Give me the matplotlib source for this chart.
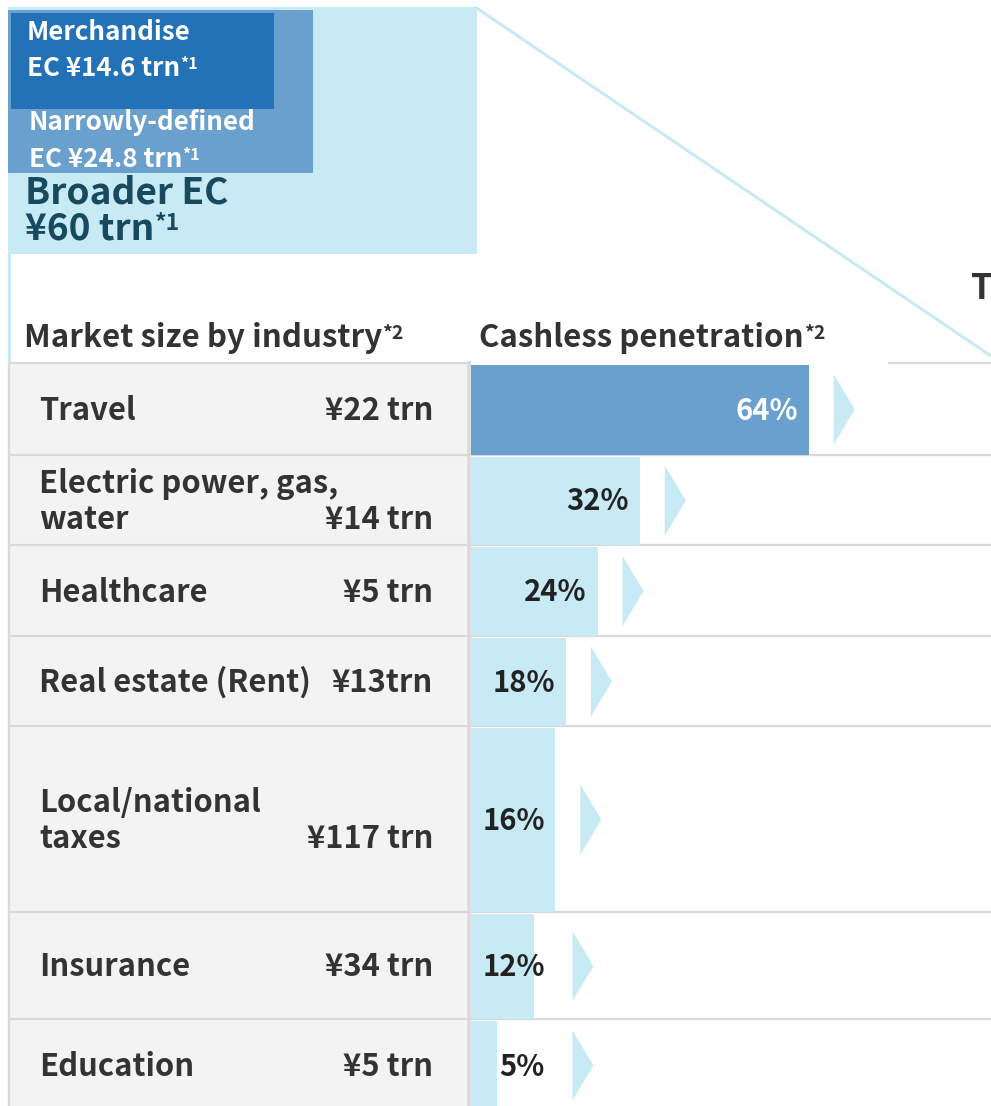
import matplotlib
matplotlib.use('Agg')
import matplotlib.pyplot as plt
from matplotlib.patches import Rectangle, Polygon

plt.rcParams['font.family'] = ['Noto Sans CJK JP', 'DejaVu Sans']

# data
industries = ['Travel', 'Electric power, gas,\nwater', 'Healthcare', 'Real estate (Rent)',
              'Local/national\ntaxes', 'Insurance', 'Education']
market_size = ['¥22 trn', '¥14 trn', '¥5 trn', '¥13trn', '¥117 trn', '¥34 trn', '¥5 trn']
cashless_pct = [64, 32, 24, 18, 16, 12, 5]

ec_title = ['Broader EC', '¥60 trn']
ec_narrow = ['Narrowly-defined', 'EC ¥24.8 trn']
ec_merch = ['Merchandise', 'EC ¥14.6 trn']

# colours
LIGHT = '#c8eaf5'
MID = '#6aa0ce'
DARK = '#2371b7'
CELL = '#f3f3f3'
GRID = '#d9d9d9'
TXT = '#333333'

W, H = 991, 1106
PX_PER_PCT = 5.28
BAR_X0 = 471
row_edges = [363, 455, 545, 636, 726, 912, 1019, 1111]

ROW_FS = 22.3
HEAD_FS = 22.5
EC_FS = 18.7
BIG_FS = 26.7
PCT_FS = 21

fig = plt.figure(figsize=(W / 100, H / 100), dpi=100)
bg = fig.add_axes([0, 0, 1, 1])
bg.set_xlim(0, W)
bg.set_ylim(H, 0)
bg.axis('off')

# EC nested boxes
bg.add_patch(Rectangle((8, 7), 469, 247, color=LIGHT, lw=0))
bg.add_patch(Rectangle((8, 254), 3, 108, color=LIGHT, lw=0))
bg.add_patch(Rectangle((8, 10), 305, 163, color=MID, lw=0))
bg.add_patch(Rectangle((11, 13), 263, 96, color=DARK, lw=0))
bg.plot([475, W], [7, 356], color=LIGHT, lw=2.2, solid_capstyle='butt')


def sup_text(ax, x, y, s, sup, size, color, **kw):
    t = ax.text(x, y, s, fontsize=size, color=color, fontweight='bold', va='baseline', **kw)
    ax.annotate(sup, xy=(1.0, 0.95), xycoords=t, fontsize=size * 0.62, color=color,
                fontweight='bold', ha='left', va='top')
    return t


bg.text(27, 40, ec_merch[0], fontsize=EC_FS, color='white', fontweight='bold')
sup_text(bg, 27, 76, ec_merch[1], '*1', EC_FS, 'white')
bg.text(29, 130, ec_narrow[0], fontsize=EC_FS, color='white', fontweight='bold')
sup_text(bg, 29, 167, ec_narrow[1], '*1', EC_FS, 'white')
bg.text(25, 203, ec_title[0], fontsize=BIG_FS, color='#174a5f', fontweight='bold')
sup_text(bg, 25, 239, ec_title[1], '*1', BIG_FS, '#174a5f')

# headers
sup_text(bg, 24, 347, 'Market size by industry', '*2', HEAD_FS, TXT)
sup_text(bg, 479, 347, 'Cashless penetration', '*2', HEAD_FS, TXT)
bg.text(971, 299, 'T', fontsize=25, color=TXT, fontweight='bold', va='baseline')

# left column cells
for i in range(len(industries)):
    top, bot = row_edges[i], row_edges[i + 1]
    bg.add_patch(Rectangle((8, top), 459, bot - top, facecolor=CELL, lw=0))

# grid lines
for i, y in enumerate(row_edges[:-1]):
    if i == 0:
        bg.plot([8, 470], [y, y], color=GRID, lw=1.6, solid_capstyle='butt')
        bg.plot([888, W], [y, y], color=GRID, lw=1.6, solid_capstyle='butt')
    else:
        bg.plot([8, W], [y, y], color=GRID, lw=1.6, solid_capstyle='butt')
bg.plot([9, 9], [363, H], color=GRID, lw=1.6)
bg.plot([468.5, 468.5], [363, H], color=GRID, lw=2.6)

# row labels
for i, (name, val) in enumerate(zip(industries, market_size)):
    c = (row_edges[i] + row_edges[i + 1]) / 2
    if '\n' in name:
        l1, l2 = name.split('\n')
        bg.text(39, c - 7, l1, fontsize=ROW_FS, color=TXT, fontweight='bold', va='baseline')
        bg.text(39, c + 29, l2, fontsize=ROW_FS, color=TXT, fontweight='bold', va='baseline')
        bg.text(433, c + 29, val, fontsize=ROW_FS, color=TXT, fontweight='bold',
                va='baseline', ha='right')
    else:
        bg.text(39, c + 11, name, fontsize=ROW_FS, color=TXT, fontweight='bold', va='baseline')
        bg.text(433, c + 11, val, fontsize=ROW_FS, color=TXT, fontweight='bold',
                va='baseline', ha='right')

# bar panel: x in percent
bx = fig.add_axes([BAR_X0 / W, 0, (W - BAR_X0) / W, 1])
bx.set_xlim(0, (W - BAR_X0) / PX_PER_PCT)
bx.set_ylim(H, 0)
bx.axis('off')
bx.patch.set_alpha(0)

centers = [(row_edges[i] + row_edges[i + 1]) / 2 + 0.5 for i in range(len(cashless_pct))]
heights = [row_edges[i + 1] - row_edges[i] - 2 for i in range(len(cashless_pct))]
bar_colors = [MID] + [LIGHT] * (len(cashless_pct) - 1)
pct_colors = ['white'] + ['#222222'] * (len(cashless_pct) - 1)
bx.barh(centers, cashless_pct, height=heights, left=0, color=bar_colors, lw=0)

for v, c, col in zip(cashless_pct, centers, pct_colors):
    bx.text(max(v - 2.1, 14.0), c + 10, f'{v}%', fontsize=PCT_FS, color=col,
            fontweight='bold', ha='right', va='baseline')
    x0 = max(v, 14.5) + 4.7
    bx.add_patch(Polygon([(x0, c - 35), (x0 + 4, c), (x0, c + 35)], closed=True,
                         color=LIGHT, lw=0))

fig.savefig('out.png', dpi=100)
